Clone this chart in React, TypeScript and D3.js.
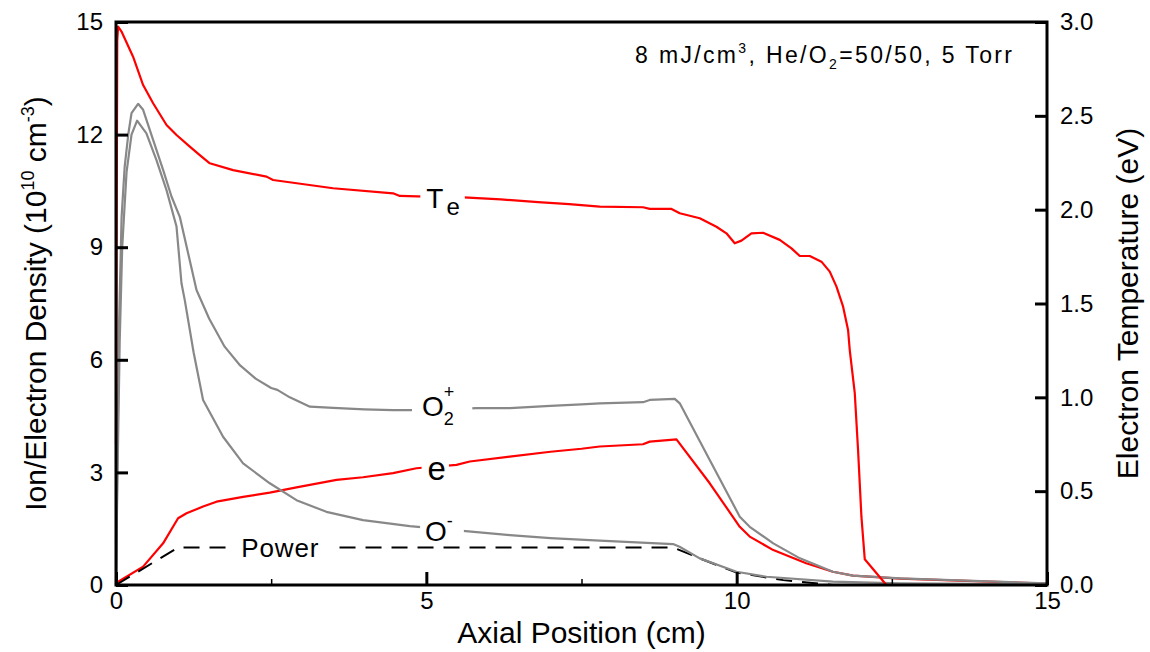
import { useEffect, useRef } from 'react'
import * as d3 from 'd3'

type Pt = [number, number]

// axial position (cm), electron temperature (eV) - right axis
const electronTemp: Pt[] = [
  [0, 0.75], [0.02, 2.9], [0.034, 2.975], [0.089, 2.949], [0.275, 2.815], [0.437, 2.664],
  [0.598, 2.567], [0.814, 2.451], [0.975, 2.398], [1.189, 2.336], [1.35, 2.291], [1.511, 2.247],
  [1.887, 2.211], [2.425, 2.176], [2.531, 2.158], [3.498, 2.114], [4.464, 2.087], [4.572, 2.073],
  [5.0, 2.07], [5.6, 2.065], [6.2, 2.055], [6.8, 2.04], [7.3, 2.03], [7.794, 2.016],
  [8.492, 2.013], [8.6, 2.004], [8.95, 2.004], [9.083, 1.981], [9.405, 1.954], [9.674, 1.909],
  [9.835, 1.874], [9.969, 1.821], [10.077, 1.835], [10.238, 1.874], [10.425, 1.877],
  [10.694, 1.839], [10.883, 1.794], [11.017, 1.753], [11.178, 1.753], [11.366, 1.723],
  [11.5, 1.67], [11.608, 1.59], [11.715, 1.483], [11.795, 1.359], [11.822, 1.252],
  [11.903, 1.022], [11.956, 0.719], [12.01, 0.364], [12.064, 0.137], [12.413, 0]
]

// densities, 1e10 cm^-3 - left axis
const electronDensity: Pt[] = [
  [0, 0], [0.008, 0.06], [0.437, 0.49], [0.759, 1.11], [1.0, 1.78], [1.136, 1.91], [1.403, 2.09],
  [1.619, 2.22], [2.048, 2.35], [2.478, 2.46], [2.908, 2.6], [3.553, 2.8], [3.98, 2.87],
  [4.464, 2.98], [4.84, 3.11], [5.486, 3.2], [5.7, 3.29], [6.344, 3.42], [7.0, 3.55], [7.5, 3.63],
  [7.794, 3.69], [8.49, 3.75], [8.6, 3.82], [9.03, 3.88], [9.566, 2.71], [10.05, 1.55],
  [10.21, 1.29], [10.59, 0.93], [11.12, 0.58], [11.55, 0.354], [11.875, 0.248], [12.63, 0.17],
  [13.7, 0.11], [15, 0.04]
]

const o2Plus: Pt[] = [
  [0, 0], [0.02, 3.0], [0.05, 7.0], [0.09, 9.8], [0.14, 11.15], [0.2, 12.03], [0.25, 12.57],
  [0.356, 12.82], [0.437, 12.66], [0.598, 11.86], [0.759, 11.06], [0.894, 10.35], [1.028, 9.81],
  [1.162, 8.84], [1.297, 7.86], [1.5, 7.1], [1.75, 6.35], [2.0, 5.85], [2.25, 5.5], [2.5, 5.25],
  [2.6, 5.2], [2.8, 5.0], [3.124, 4.75], [3.5, 4.72], [4.0, 4.68], [4.46, 4.66], [5.0, 4.66],
  [5.81, 4.71], [6.344, 4.71], [7.0, 4.77], [7.5, 4.81], [7.794, 4.84], [8.492, 4.87],
  [8.6, 4.93], [9.003, 4.96], [9.083, 4.84], [9.566, 3.33], [10.05, 1.82], [10.21, 1.55],
  [10.59, 1.11], [11.02, 0.71], [11.55, 0.354], [11.875, 0.248], [12.63, 0.178], [13.7, 0.115],
  [15, 0.045]
]

const oMinus: Pt[] = [
  [0, 0], [0.02, 2.5], [0.06, 6.5], [0.1, 9.0], [0.17, 11.0], [0.25, 12.0], [0.34, 12.37],
  [0.49, 12.03], [0.652, 11.32], [0.814, 10.52], [0.975, 9.55], [1.055, 8.04], [1.108, 7.59],
  [1.25, 6.2], [1.403, 4.93], [1.725, 3.95], [2.048, 3.24], [2.478, 2.71], [2.908, 2.26],
  [3.39, 1.95], [3.98, 1.73], [4.733, 1.57], [5.59, 1.44], [6.344, 1.33], [7.0, 1.25],
  [7.794, 1.18], [8.976, 1.09], [9.08, 1.02], [9.405, 0.71], [9.997, 0.354], [10.48, 0.22],
  [11.55, 0.09], [12.63, 0.045], [15, 0.02]
]

const power: Pt[] = [
  [0, 0], [1.0, 1.0], [8.976, 1.0], [9.405, 0.71], [10.0, 0.33], [10.75, 0.13], [11.55, 0]
]

const leftTicks = [0, 3, 6, 9, 12, 15]
const rightTicks = [0, 0.5, 1, 1.5, 2, 2.5, 3]
const bottomTicks = [0, 5, 10, 15]
const minorTicks = [2.5, 7.5, 12.5]

const FONT = "'Liberation Sans', Arial, sans-serif"

export default function App() {
  const svgRef = useRef<SVGSVGElement>(null)

  useEffect(() => {
    if (!svgRef.current) return
    const svg = d3.select(svgRef.current)
    svg.selectAll('*').remove()

    const m = { left: 116, right: 1047, top: 22, bottom: 585 }
    const x = d3.scaleLinear().domain([0, 15]).range([m.left, m.right])
    const yL = d3.scaleLinear().domain([0, 15]).range([m.bottom, m.top])
    const yR = d3.scaleLinear().domain([0, 3]).range([m.bottom, m.top])

    const lineL = d3.line<Pt>().x(d => x(d[0])).y(d => yL(d[1]))
    const lineR = d3.line<Pt>().x(d => x(d[0])).y(d => yR(d[1]))

    const curves = svg.append('g').attr('fill', 'none').attr('stroke-linejoin', 'round')
    curves.append('path').datum(electronDensity).attr('d', lineL).attr('stroke', '#f00').attr('stroke-width', 2.2)
    curves.append('path').datum(power).attr('d', lineL)
      .attr('stroke', '#000').attr('stroke-width', 2).attr('stroke-dasharray', '16,10')
    curves.append('path').datum(oMinus).attr('d', lineL).attr('stroke', '#888').attr('stroke-width', 2.2)
    curves.append('path').datum(o2Plus).attr('d', lineL).attr('stroke', '#888').attr('stroke-width', 2.2)
    curves.append('path').datum(electronTemp).attr('d', lineR).attr('stroke', '#f00').attr('stroke-width', 2.2)

    // curve labels sit on a white patch that cuts the line
    const addLabel = (px: number, py: number, build: (t: any) => void, padL: number, padR: number, maxBottom?: number) => {
      const g = svg.append('g')
      const rect = g.append('rect').attr('fill', '#fff')
      const t = g.append('text').attr('x', px).attr('y', py)
        .attr('font-family', FONT).attr('fill', '#000')
      build(t)
      const b = (t.node() as SVGTextElement).getBBox()
      const bottom = maxBottom !== undefined ? Math.min(b.y + b.height, maxBottom) : b.y + b.height
      rect.attr('x', b.x - padL).attr('y', b.y)
        .attr('width', b.width + padL + padR).attr('height', bottom - b.y)
    }

    addLabel(x(5.0), yL(10.05), t => {
      t.append('tspan').attr('font-size', 28).text('T')
      t.append('tspan').attr('font-size', 24).attr('dx', 3).attr('dy', 7).text('e')
    }, 6, 5)

    addLabel(x(4.93), yL(4.5), t => {
      t.append('tspan').attr('font-size', 28).text('O')
      t.append('tspan').attr('font-size', 18).attr('dy', 9).text('2')
      t.append('tspan').attr('font-size', 18).attr('dx', -10).attr('dy', -27).text('+')
    }, 10, 18)

    addLabel(x(5.02), yL(2.8), t => {
      t.append('tspan').attr('font-size', 33).text('e')
    }, 6, 3)

    addLabel(x(4.98), yL(1.18), t => {
      t.append('tspan').attr('font-size', 28).text('O')
      t.append('tspan').attr('font-size', 18).attr('dy', -14).text('-')
    }, 5, 11, yL(1.18) + 4)

    addLabel(x(2.02), yL(0.75), t => {
      t.append('tspan').attr('font-size', 26).attr('textLength', 77).text('Power')
    }, 11, 12)

    // axes
    const style = (g: any) => {
      g.select('.domain').remove()
      g.selectAll('line').attr('stroke', '#000').attr('stroke-width', 3)
      g.selectAll('text').attr('font-family', FONT).attr('font-size', 24).attr('fill', '#000')
    }
    svg.append('g').attr('transform', `translate(${m.left},0)`)
      .call(d3.axisLeft(yL).tickValues(leftTicks).tickSize(-12).tickPadding(13).tickFormat(d3.format('d')))
      .call(style)
    svg.append('g').attr('transform', `translate(${m.right},0)`)
      .call(d3.axisRight(yR).tickValues(rightTicks).tickSize(-12).tickPadding(13).tickFormat(d3.format('.1f')))
      .call(style)
    svg.append('g').attr('transform', `translate(0,${m.bottom})`)
      .call(d3.axisBottom(x).tickValues(bottomTicks).tickSize(-13).tickPadding(7).tickFormat(d3.format('d')))
      .call(style)
    svg.append('g').attr('transform', `translate(0,${m.bottom})`)
      .call(d3.axisBottom(x).tickValues(minorTicks).tickSize(-6).tickFormat(() => ''))
      .call(style)
      .call((g: any) => g.selectAll('line').attr('stroke-width', 1.5))

    svg.append('rect')
      .attr('x', m.left).attr('y', m.top)
      .attr('width', m.right - m.left).attr('height', m.bottom - m.top)
      .attr('fill', 'none').attr('stroke', '#000').attr('stroke-width', 3)

    // axis titles
    svg.append('text')
      .attr('x', (m.left + m.right) / 2).attr('y', 643)
      .attr('text-anchor', 'middle').attr('font-family', FONT).attr('font-size', 30)
      .text('Axial Position (cm)')

    const yt = svg.append('text')
      .attr('transform', `translate(46,${(m.top + m.bottom) / 2}) rotate(-90)`)
      .attr('text-anchor', 'middle').attr('font-family', FONT).attr('font-size', 30)
    yt.append('tspan').text('Ion/Electron Density (10')
    yt.append('tspan').attr('font-size', 18).attr('dy', -12).text('10')
    yt.append('tspan').attr('dy', 12).text(' cm')
    yt.append('tspan').attr('font-size', 18).attr('dy', -12).text('-3')
    yt.append('tspan').attr('dy', 12).text(')')

    svg.append('text')
      .attr('transform', `translate(1138,${(m.top + m.bottom) / 2}) rotate(-90)`)
      .attr('text-anchor', 'middle').attr('font-family', FONT).attr('font-size', 30)
      .text('Electron Temperature (eV)')

    // condition note
    const note = svg.append('text')
      .attr('x', m.right - 35).attr('y', 63)
      .attr('text-anchor', 'end').attr('font-family', FONT).attr('font-size', 23)
      .attr('textLength', 377).attr('lengthAdjust', 'spacing')
    note.append('tspan').text('8 mJ/cm')
    note.append('tspan').attr('font-size', 14).attr('dy', -10).text('3')
    note.append('tspan').attr('dy', 10).text(', He/O')
    note.append('tspan').attr('font-size', 14).attr('dy', 6).text('2')
    note.append('tspan').attr('dy', -6).text('=50/50, 5 Torr')
  }, [])

  return (
    <svg ref={svgRef} width={1150} height={652}
      style={{ position: 'absolute', left: 0, top: 0, background: '#fff' }} />
  )
}
